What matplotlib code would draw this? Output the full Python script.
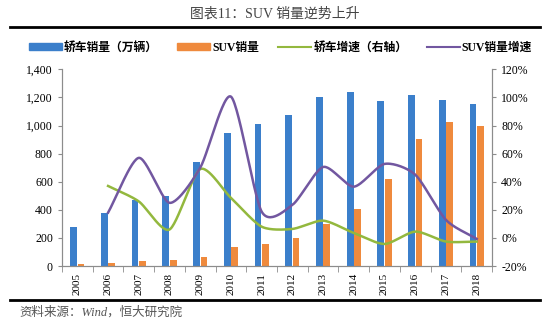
import numpy as np
import matplotlib
matplotlib.use("Agg")
import matplotlib.pyplot as plt
from matplotlib.lines import Line2D
from matplotlib.patches import Patch
from matplotlib.ticker import FuncFormatter, MultipleLocator

plt.rcParams['font.family'] = ['Liberation Serif', 'Noto Sans CJK SC', 'DejaVu Sans']

years = ['2005', '2006', '2007', '2008', '2009', '2010', '2011',
         '2012', '2013', '2014', '2015', '2016', '2017', '2018']
sedan_sales = [277, 380, 472, 502, 742, 950, 1010, 1075, 1200, 1237, 1172, 1215, 1185, 1150]
suv_sales = [17, 20, 35, 45, 66, 133, 160, 200, 300, 408, 622, 905, 1025, 999]
# growth in %, 2006 onwards
sedan_growth = [37, 26, 6, 49, 28.5, 8, 6.4, 12.3, 3.5, -4.3, 4.5, -2.6, -2.6]
suv_growth = [18, 57, 25, 50, 100.6, 18.7, 23.5, 50.5, 36.5, 52.7, 45, 12.8, -0.7]

C_BLUE = '#3B7FCB'
C_ORANGE = '#EF8A3D'
C_GREEN = '#93B83E'
C_PURPLE = '#7257A0'
C_AXIS = '#8C8C8C'


def smooth(xs, ys, n=30, k=0.75):
    # Hermite spline with damped Catmull-Rom tangents, similar to Excel smoothing
    xs = np.asarray(xs, float)
    ys = np.asarray(ys, float)
    m = len(xs)
    ox, oy = [], []
    t = np.linspace(0, 1, n)
    h00 = 2 * t ** 3 - 3 * t ** 2 + 1
    h10 = t ** 3 - 2 * t ** 2 + t
    h01 = -2 * t ** 3 + 3 * t ** 2
    h11 = t ** 3 - t ** 2

    def tan(P, i):
        a = P[max(i - 1, 0)]
        b = P[min(i + 1, m - 1)]
        return 0.5 * k * (b - a) * (2 if i in (0, m - 1) else 1)

    for i in range(m - 1):
        for P, out in ((xs, ox), (ys, oy)):
            seg = h00 * P[i] + h10 * tan(P, i) + h01 * P[i + 1] + h11 * tan(P, i + 1)
            out.extend(seg)
    return np.array(ox), np.array(oy)


fig = plt.figure(figsize=(5.5, 3.25), dpi=100)
ax = fig.add_axes([0.1127, 0.1815, 0.782, 0.605])
ax2 = ax.twinx()

x = np.arange(len(years))
w = 0.22
ax.bar(x - 0.12, sedan_sales, w, color=C_BLUE, zorder=2)
ax.bar(x + 0.12, suv_sales, w, color=C_ORANGE, zorder=2)

gx, gy = smooth(x[1:], sedan_growth)
ax2.plot(gx, gy, color=C_GREEN, lw=1.8)
px_, py_ = smooth(x[1:], suv_growth)
ax2.plot(px_, py_, color=C_PURPLE, lw=1.8)

ax.set_xlim(-0.5, len(years) - 0.5)
ax.set_ylim(0, 1400)
ax2.set_ylim(-20, 120)
ax.yaxis.set_major_locator(MultipleLocator(200))
ax2.yaxis.set_major_locator(MultipleLocator(20))
ax.yaxis.set_major_formatter(FuncFormatter(lambda v, p: f'{int(v):,}'))
ax2.yaxis.set_major_formatter(FuncFormatter(lambda v, p: f'{int(v)}%'))

ax.set_xticks(x)
ax.set_xticklabels(years, rotation=90, fontsize=8)
ax.set_xticks(np.arange(-0.5, len(years)), minor=True)
ax.tick_params(axis='x', which='major', length=0, pad=5)
ax.tick_params(axis='x', which='minor', length=4, color=C_AXIS)
ax.tick_params(axis='y', labelsize=8.5, length=3, color=C_AXIS)
ax2.tick_params(axis='y', labelsize=8.5, length=3, color=C_AXIS)

for a in (ax, ax2):
    a.spines['top'].set_visible(False)
    for s in ('left', 'right', 'bottom'):
        a.spines[s].set_color(C_AXIS)

handles = [Patch(color=C_BLUE), Patch(color=C_ORANGE),
           Line2D([], [], color=C_GREEN, lw=1.5), Line2D([], [], color=C_PURPLE, lw=1.5)]
labels = ['轿车销量（万辆）', 'SUV销量', '轿车增速（右轴）', 'SUV销量增速']
fig.legend(handles, labels, loc='center', bbox_to_anchor=(0.51, 0.853), ncol=4,
           frameon=False, handlelength=2.8, handleheight=0.6,
           handletextpad=0.2, columnspacing=1.6,
           prop={'weight': 'bold', 'size': 8.5})

fig.text(0.5, 0.957, '图表11：SUV 销量逆势上升', ha='center', va='center',
         fontsize=10, color='#444444')
fig.add_artist(Line2D([0.018, 0.982], [0.917, 0.917], color='black', lw=2))
fig.add_artist(Line2D([0.018, 0.982], [0.078, 0.078], color='black', lw=2))
fig.text(0.036, 0.04, '资料来源：Wind，恒大研究院', ha='left', va='center',
         fontsize=9, color='#555555', style='italic')

fig.savefig('out.png', dpi=100)
